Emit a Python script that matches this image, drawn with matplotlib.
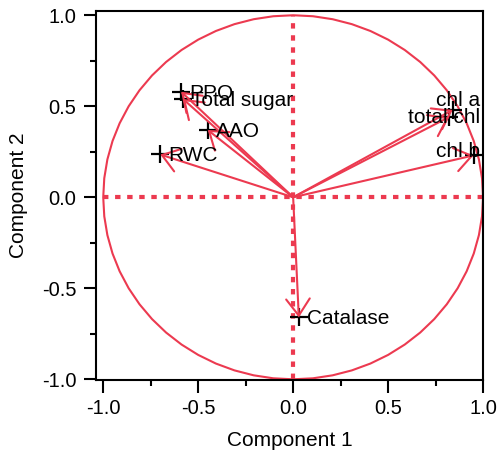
import numpy as np
import matplotlib
matplotlib.use("Agg")
import matplotlib.pyplot as plt
from matplotlib.ticker import MultipleLocator

plt.rcParams['font.family'] = ['Liberation Sans', 'DejaVu Sans']
plt.rcParams['axes.unicode_minus'] = False

# Loadings (Component 1, Component 2)
variables = ["PPO", "Total sugar", "AAO", "RWC", "Catalase", "chl a", "total chl", "chl b"]
comp1 = [-0.59, -0.58, -0.45, -0.70, 0.03, 0.84, 0.82, 0.95]
comp2 = [0.58, 0.54, 0.37, 0.235, -0.66, 0.48, 0.44, 0.23]

x_ticks = [-1.0, -0.5, 0.0, 0.5, 1.0]
y_ticks = [-1.0, -0.5, 0.0, 0.5, 1.0]

# label vertical offsets (points) for the right-hand labels
right_dy = {"chl a": 7, "total chl": 0, "chl b": 3}

RED = '#ec3a50'

fig = plt.figure(figsize=(4.98, 4.53), dpi=100)
ax = fig.add_axes([0.1928, 0.1611, 0.970 - 0.1928, 0.9768 - 0.1611])
ax.set_xlim(-1.038, 1.0)
ax.set_ylim(-1.004, 1.026)

# unit circle
t = np.linspace(0, 2 * np.pi, 61)
ax.plot(np.cos(t), np.sin(t), color=RED, lw=1.5, zorder=2)

# dotted axes
dot = dict(color=RED, lw=3, linestyle=(0, (1.3, 1.6)), zorder=2)
ax.plot([-1, 1], [0, 0], **dot)
ax.plot([0, 0], [-1, 1], **dot)

# markers
ax.plot(comp1, comp2, linestyle='none', marker='+', color='black',
        markersize=13, mew=1.6, zorder=3)

# arrows
for x, y in zip(comp1, comp2):
    ax.annotate('', xy=(x, y), xytext=(0, 0),
                arrowprops=dict(arrowstyle='->,head_length=1.2,head_width=0.85',
                                color=RED, lw=1.5, shrinkA=0, shrinkB=0),
                zorder=4)

# labels
for name, x, y in zip(variables, comp1, comp2):
    if x > 0.5:
        ax.annotate(name, xy=(0.985, y), xytext=(0, right_dy[name]), textcoords='offset points',
                    ha='right', va='center', fontsize=15, zorder=5)
    else:
        ax.annotate(name, xy=(x, y), xytext=(6, -1), textcoords='offset points',
                    ha='left', va='center', fontsize=15, zorder=5)

ax.set_xticks(x_ticks)
ax.set_yticks(y_ticks)
ax.set_xticklabels([f"{v:.1f}" for v in x_ticks])
ax.set_yticklabels([f"{v:.1f}" for v in y_ticks])
ax.xaxis.set_minor_locator(MultipleLocator(0.25))
ax.yaxis.set_minor_locator(MultipleLocator(0.25))
ax.tick_params(which='major', length=9, width=1.5, labelsize=14.5, direction='out', pad=5)
ax.tick_params(which='minor', length=4.5, width=1.5, direction='out')
for s in ax.spines.values():
    s.set_linewidth(1.5)

ax.set_xlabel("Component 1", fontsize=15, labelpad=9)
ax.set_ylabel("Component 2", fontsize=15, labelpad=10)

fig.savefig("out.png", dpi=100)
